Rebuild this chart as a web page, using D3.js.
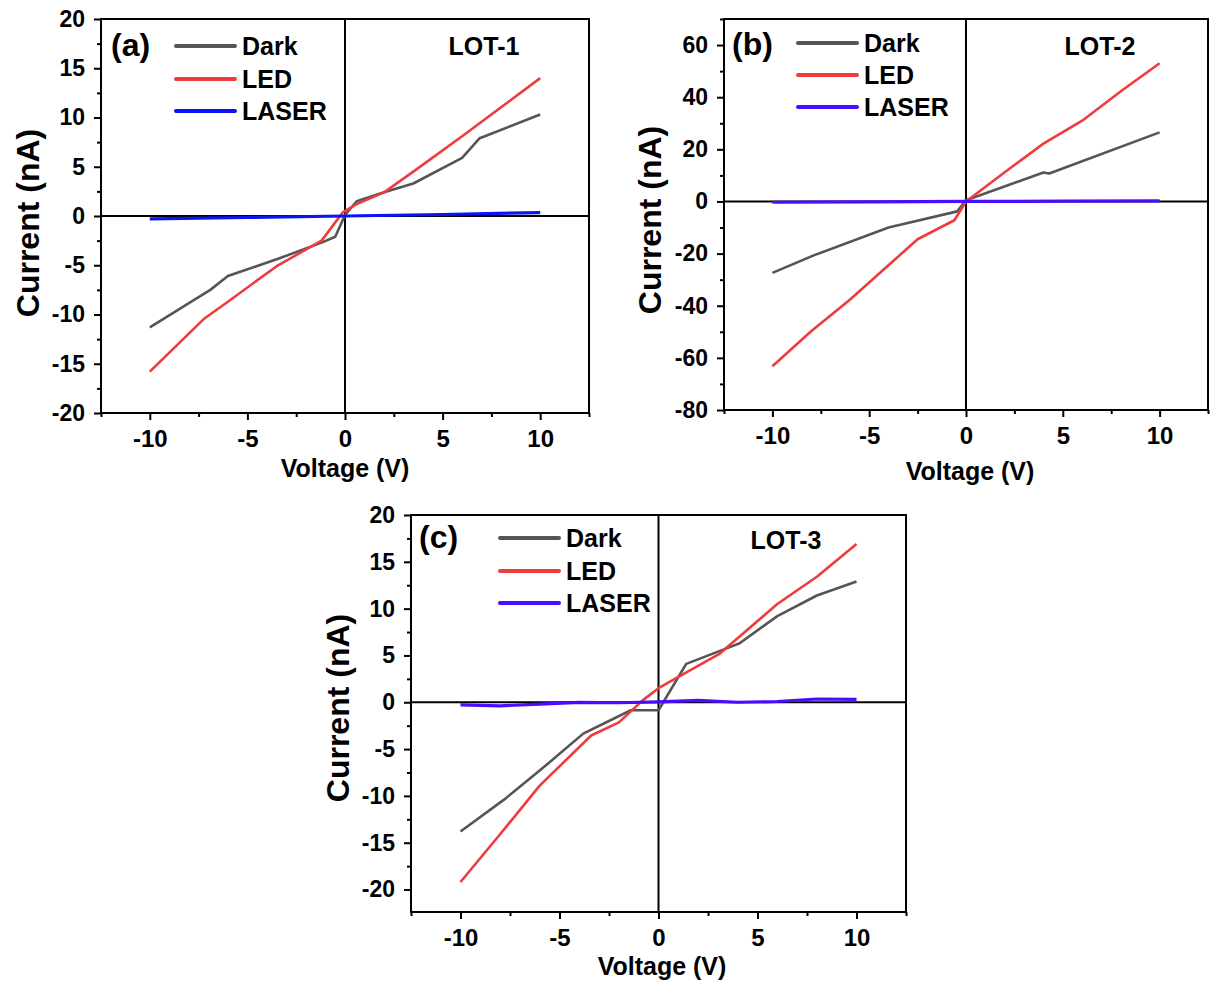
<!DOCTYPE html>
<html>
<head>
<meta charset="utf-8">
<script src="https://cdn.jsdelivr.net/npm/d3@7"></script>
<style>
  html, body { margin: 0; padding: 0; background: #fff; }
  svg { display: block; font-family: "Liberation Sans", Arial, sans-serif; font-weight: bold; }
</style>
</head>
<body>
<svg id="chart" width="1210" height="985"></svg>
<script>
// ---------------- DATA ----------------
const seriesNames = ["Dark", "LED", "LASER"];
const xTicks = [-10, -5, 0, 5, 10];
const xMinorTicks = [-12.5, -7.5, -2.5, 2.5, 7.5, 12.5];

// Panel (a) LOT-1  [voltage V, current nA]
const darkA = [[-10,-11.3],[-6.9,-7.5],[-6,-6.1],[-3.5,-4.4],[-1.2,-2.7],[-0.5,-2.1],[0,0.1],[0.6,1.5],[2,2.4],[3.5,3.3],[6,5.9],[6.9,7.9],[10,10.3]];
const ledA = [[-10,-15.8],[-7.2,-10.4],[-6,-8.7],[-3.5,-5.1],[-1.2,-2.5],[-0.1,0.4],[0.6,1.2],[2,2.4],[3.5,4.5],[6,8.1],[10,14]];
const laserA = [[-10,-0.3],[-5,-0.15],[0,0],[5,0.15],[10,0.35]];
const yTicksA = [-20, -15, -10, -5, 0, 5, 10, 15, 20];
const yMinorA = [-17.5, -12.5, -7.5, -2.5, 2.5, 7.5, 12.5, 17.5];

// Panel (b) LOT-2
const darkB = [[-10,-27.4],[-7.8,-20.5],[-4,-10],[-0.45,-3.8],[0,0.5],[4,11.1],[4.3,10.7],[10,26.5]];
const ledB = [[-10,-63.2],[-8,-49.8],[-6,-37.7],[-2.5,-14.5],[-0.6,-7.2],[0,0],[2,11.2],[4,22.2],[6,31],[8,42.3],[10,53]];
const laserB = [[-10,-0.3],[-5,-0.15],[0,0],[5,0.1],[10,0.2]];
const yTicksB = [-80, -60, -40, -20, 0, 20, 40, 60];
const yMinorB = [-70, -50, -30, -10, 10, 30, 50, 70];

// Panel (c) LOT-3
const darkC = [[-10,-13.8],[-7.8,-10.4],[-6,-7.3],[-3.8,-3.35],[-1.4,-0.85],[0,-0.85],[1.4,4.1],[3.3,5.65],[4.1,6.3],[6,9.2],[8,11.4],[10,12.9]];
const ledC = [[-10,-19.2],[-8,-14.1],[-6,-8.9],[-3.4,-3.55],[-2,-2.15],[-0.8,0.2],[0,1.5],[1.5,3.3],[3.1,5.2],[6,10.5],[8,13.4],[10,16.9]];
const laserC = [[-10,-0.28],[-8,-0.38],[-6,-0.2],[-4,-0.02],[-2,-0.05],[0,0.05],[2,0.2],[4,0.0],[6,0.08],[8,0.35],[10,0.3]];
const yTicksC = [-20, -15, -10, -5, 0, 5, 10, 15, 20];
const yMinorC = [-17.5, -12.5, -7.5, -2.5, 2.5, 7.5, 12.5, 17.5];

const panelLabels = ["(a)", "(b)", "(c)"];
const lotLabels = ["LOT-1", "LOT-2", "LOT-3"];
const xTitle = "Voltage (V)";
const yTitle = "Current (nA)";

// ---------------- STYLE / LAYOUT ----------------
const colDark = "#555555", colLed = "#ef3b3b";
const panels = [
  { left: 101, right: 589, top: 19, bottom: 413, xDom: [-12.5, 12.5], yDom: [-20, 20],
    series: [darkA, ledA, laserA], colors: [colDark, colLed, "#0a14f5"],
    yTicks: yTicksA, yMinor: yMinorA, label: panelLabels[0], lot: lotLabels[0],
    labelX: 111, labelY: 56, lotX: 484, lotY: 55,
    legX: 176, legTextX: 242, legY: [46, 79, 111],
    yTitleX: 28, yTitleY: 223, xTitleX: 345, xTitleY: 477 },
  { left: 724, right: 1208, top: 19, bottom: 410, xDom: [-12.5, 12.5], yDom: [-80, 70],
    series: [darkB, ledB, laserB], colors: [colDark, colLed, "#4a0cff"],
    yTicks: yTicksB, yMinor: yMinorB, label: panelLabels[1], lot: lotLabels[1],
    labelX: 732, labelY: 55, lotX: 1100, lotY: 55,
    legX: 798, legTextX: 864, legY: [43, 75, 107],
    yTitleX: 650, yTitleY: 220, xTitleX: 970, xTitleY: 480 },
  { left: 411, right: 906, top: 515, bottom: 912, xDom: [-12.5, 12.5], yDom: [-22.4, 20],
    series: [darkC, ledC, laserC], colors: [colDark, colLed, "#4a0cff"],
    yTicks: yTicksC, yMinor: yMinorC, label: panelLabels[2], lot: lotLabels[2],
    labelX: 419, labelY: 548, lotX: 786, lotY: 549,
    legX: 500, legTextX: 566, legY: [538, 571, 603],
    yTitleX: 338, yTitleY: 708, xTitleX: 662, xTitleY: 975 }
];

const svg = d3.select("#chart");

panels.forEach(p => {
  const x = d3.scaleLinear().domain(p.xDom).range([p.left, p.right]);
  const y = d3.scaleLinear().domain(p.yDom).range([p.bottom, p.top]);
  const g = svg.append("g");

  // zero lines
  g.append("line").attr("x1", x(0)).attr("x2", x(0)).attr("y1", p.top).attr("y2", p.bottom)
    .attr("stroke", "#000").attr("stroke-width", 2);
  g.append("line").attr("x1", p.left).attr("x2", p.right).attr("y1", y(0)).attr("y2", y(0))
    .attr("stroke", "#000").attr("stroke-width", 2);

  // data lines
  const line = d3.line().x(d => x(d[0])).y(d => y(d[1]));
  p.series.forEach((s, i) => {
    g.append("path").datum(s).attr("d", line).attr("fill", "none")
      .attr("stroke", p.colors[i]).attr("stroke-width", i === 2 ? 3.2 : 2.6)
      .attr("stroke-linejoin", "round");
  });

  // frame
  g.append("rect").attr("x", p.left).attr("y", p.top)
    .attr("width", p.right - p.left).attr("height", p.bottom - p.top)
    .attr("fill", "none").attr("stroke", "#000").attr("stroke-width", 2);

  // axes
  const xAxis = g.append("g").attr("transform", `translate(0,${p.bottom})`)
    .call(d3.axisBottom(x).tickValues(xTicks).tickSize(7).tickPadding(10).tickFormat(d => String(d)));
  const xMinor = g.append("g").attr("transform", `translate(0,${p.bottom})`)
    .call(d3.axisBottom(x).tickValues(xMinorTicks).tickSize(4).tickFormat(""));
  const yAxis = g.append("g").attr("transform", `translate(${p.left},0)`)
    .call(d3.axisLeft(y).tickValues(p.yTicks).tickSize(7).tickPadding(9).tickFormat(d => String(d)));
  const yMinor = g.append("g").attr("transform", `translate(${p.left},0)`)
    .call(d3.axisLeft(y).tickValues(p.yMinor).tickSize(4).tickFormat(""));
  [xAxis, xMinor, yAxis, yMinor].forEach(a => {
    a.select(".domain").remove();
    a.selectAll("line").attr("stroke", "#000").attr("stroke-width", 2);
  });
  xAxis.selectAll("text").attr("font-size", 24).attr("font-weight", "bold")
    .attr("font-family", "Liberation Sans, Arial, sans-serif").attr("fill", "#000");
  yAxis.selectAll("text").attr("font-size", 23).attr("font-weight", "bold")
    .attr("font-family", "Liberation Sans, Arial, sans-serif").attr("fill", "#000");

  // titles
  g.append("text").attr("x", p.xTitleX).attr("y", p.xTitleY).attr("text-anchor", "middle")
    .attr("font-size", 25).attr("font-weight", "bold").text(xTitle);
  g.append("text").attr("transform", `translate(${p.yTitleX},${p.yTitleY}) rotate(-90)`)
    .attr("text-anchor", "middle").attr("dy", "0.35em")
    .attr("font-size", 32).attr("font-weight", "bold").text(yTitle);

  // panel label and lot
  g.append("text").attr("x", p.labelX).attr("y", p.labelY)
    .attr("font-size", 32).attr("font-weight", "bold").text(p.label);
  g.append("text").attr("x", p.lotX).attr("y", p.lotY).attr("text-anchor", "middle")
    .attr("font-size", 25).attr("font-weight", "bold").text(p.lot);

  // legend
  seriesNames.forEach((name, i) => {
    g.append("line").attr("x1", p.legX).attr("x2", p.legX + 59)
      .attr("y1", p.legY[i]).attr("y2", p.legY[i])
      .attr("stroke", p.colors[i]).attr("stroke-width", 4).attr("stroke-linecap", "round");
    g.append("text").attr("x", p.legTextX).attr("y", p.legY[i]).attr("dy", "0.36em")
      .attr("font-size", 25).attr("font-weight", "bold").text(name);
  });
});
</script>
</body>
</html>
